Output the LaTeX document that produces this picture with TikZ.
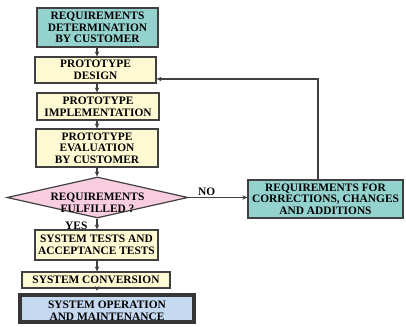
\documentclass[tikz,border=0pt]{standalone}
\usepackage{fontspec}
\setmainfont{Liberation Serif}
\usetikzlibrary{arrows.meta,shapes.geometric}
\definecolor{teal1}{HTML}{94D2CE}
\definecolor{yell1}{HTML}{FDF9D2}
\definecolor{pink1}{HTML}{F9CDE0}
\definecolor{blue1}{HTML}{C5D9F1}
\definecolor{edge1}{HTML}{404040}
\begin{document}
\begin{tikzpicture}[x=1pt,y=-1pt,
  every node/.style={font=\bfseries\fontsize{11.4}{11.6}\selectfont, align=center, inner sep=0pt, text=black},
  boxbase/.style={rectangle, draw=edge1, line width=1.2pt},
  ybox/.style={boxbase, fill=yell1},
  tbox/.style={boxbase, fill=teal1},
  conn/.style={draw=edge1, line width=1.5pt, -{Stealth[length=5pt,width=4.5pt]}},
  lbl/.style={anchor=base west}
]
\useasboundingbox (0,0) rectangle (406,326);
\node[tbox, minimum width=121pt, minimum height=39pt] (b1) at (97.5,27.5) {REQUIREMENTS\\DETERMINATION\\BY CUSTOMER};
\node[ybox, minimum width=121pt, minimum height=26pt] (b2) at (95.5,70) {PROTOTYPE\\DESIGN};
\node[ybox, minimum width=122pt, minimum height=27pt] (b3) at (98,106.5) {PROTOTYPE\\IMPLEMENTATION};
\node[ybox, minimum width=122pt, minimum height=38pt] (b4) at (97,148) {PROTOTYPE\\EVALUATION\\BY CUSTOMER};
\node[diamond, aspect=4.4, draw=edge1, line width=1.2pt, fill=pink1, minimum width=181pt, minimum height=41pt] (d) at (97.5,197.5) {};
\node (dt) at (97.5,203) {REQUIREMENTS\\FULFILLED ?};
\node[ybox, minimum width=123pt, minimum height=30pt] (b5) at (96.5,245) {SYSTEM TESTS AND\\ACCEPTANCE TESTS};
\node[ybox, minimum width=148pt, minimum height=16pt] (b6) at (96,280) {SYSTEM CONVERSION};
\node[rectangle, draw=edge1!85!black, line width=4pt, fill=blue1, minimum width=174pt, minimum height=27pt] (b7) at (107,308.5) {};
\node (b7t) at (107,310.5) {SYSTEM OPERATION\\AND MAINTENANCE};
\node[tbox, minimum width=155pt, minimum height=38pt] (rb) at (325.5,199) {REQUIREMENTS FOR\\CORRECTIONS, CHANGES\\AND ADDITIONS};
\coordinate (fb) at (318,79);
\coordinate (vx) at (97,0);
\draw[conn] (b1.south -| vx) -- (b2.north -| vx);
\draw[conn] (b2.south -| vx) -- (b3.north -| vx);
\draw[conn] (b3.south -| vx) -- (b4.north -| vx);
\draw[conn] (b4.south -| vx) -- (d.north -| vx);
\draw[conn] (d.south -| vx) -- (b5.north -| vx);
\draw[conn] (b5.south -| vx) -- (b6.north -| vx);
\draw[conn] (b6.south -| vx) -- ([yshift=2pt]b7.north -| vx);
\draw[conn] (d.east) -- (d.east -| rb.west);
\draw[conn] (rb.north -| fb) -- (fb) -- (fb -| b2.east);
\node[lbl] (no) at (198,195) {NO};
\node[lbl] (yes) at (65,229) {YES};
\end{tikzpicture}
\end{document}
